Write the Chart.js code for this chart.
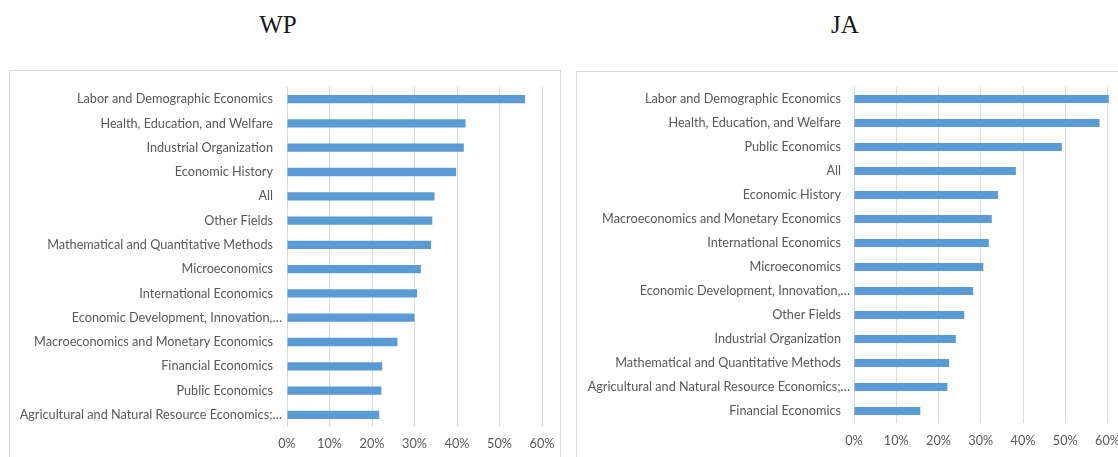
<!DOCTYPE html>
<html>
<head>
<meta charset="utf-8">
<script src="https://cdn.jsdelivr.net/npm/chart.js@4/dist/chart.umd.min.js"></script>
<style>
  html, body { margin: 0; padding: 0; background: #ffffff; }
  body { width: 1118px; height: 457px; position: relative; overflow: hidden; }
  .title { position: absolute; font-family: "Liberation Serif", "DejaVu Serif", serif; font-size: 25px; color: #1a1a1a; transform: translateX(-50%); line-height: 1; }
  .box { position: absolute; border: 1px solid #d9d9d9; background: #fff; }
  .box canvas { position: absolute; left: 0; top: 0; }
</style>
</head>
<body>
<div class="title" style="left:278px; top:12px;">WP</div>
<div class="title" style="left:845px; top:12px;">JA</div>
<div class="box" style="left:9px; top:70px; width:550px; height:400px;">
  <div style="position:absolute; left:0; top:0; width:550px; height:386px;"><canvas id="wp"></canvas></div>
</div>
<div class="box" style="left:576px; top:71px; width:600px; height:400px;">
  <div style="position:absolute; left:0; top:0; width:580px; height:385px;"><canvas id="ja"></canvas></div>
</div>
<script>
const wpCategories = [
  "Labor and Demographic Economics",
  "Health, Education, and Welfare",
  "Industrial Organization",
  "Economic History",
  "All",
  "Other Fields",
  "Mathematical and Quantitative Methods",
  "Microeconomics",
  "International Economics",
  "Economic Development, Innovation,…",
  "Macroeconomics and Monetary Economics",
  "Financial Economics",
  "Public Economics",
  "Agricultural and Natural Resource Economics;…"
];
const wpValues = [0.560, 0.420, 0.416, 0.398, 0.347, 0.342, 0.339, 0.315, 0.306, 0.300, 0.260, 0.224, 0.222, 0.217];

const jaCategories = [
  "Labor and Demographic Economics",
  "Health, Education, and Welfare",
  "Public Economics",
  "All",
  "Economic History",
  "Macroeconomics and Monetary Economics",
  "International Economics",
  "Microeconomics",
  "Economic Development, Innovation,…",
  "Other Fields",
  "Industrial Organization",
  "Mathematical and Quantitative Methods",
  "Agricultural and Natural Resource Economics;…",
  "Financial Economics"
];
const jaValues = [0.603, 0.581, 0.492, 0.383, 0.341, 0.326, 0.319, 0.306, 0.282, 0.261, 0.241, 0.225, 0.221, 0.157];

const xTickValues = [0, 0.1, 0.2, 0.3, 0.4, 0.5, 0.6];

const labelFont = { family: "Lato, 'Liberation Sans', Arial, sans-serif", size: 12.7 };
const textColor = '#595959';

// Truncated (ellipsis) labels sit a little closer to the axis, as in the original
const ellipsisShift = {
  id: 'ellipsisShift',
  beforeDraw(chart, args, opts) {
    try {
      const scale = chart.scales.y;
      const items = scale.getLabelItems();
      items.forEach(it => {
        const txt = Array.isArray(it.label) ? it.label.join('') : String(it.label);
        if (!txt.endsWith('…')) it.options.translation[0] -= opts.shift;
      });
    } catch (e) {}
  }
};

function makeChart(id, cats, vals, cfg) {
  return new Chart(document.getElementById(id), {
    type: 'bar',
    data: {
      labels: cats,
      datasets: [{
        data: vals,
        backgroundColor: '#5B9BD5',
        borderWidth: 0,
        barPercentage: 0.34,
        categoryPercentage: 1.0,
        clip: false
      }]
    },
    plugins: [ellipsisShift],
    options: {
      indexAxis: 'y',
      responsive: true,
      maintainAspectRatio: false,
      animation: false,
      layout: { padding: { left: 0, right: cfg.padRight, top: cfg.padTop, bottom: 0 } },
      plugins: { legend: { display: false }, tooltip: { enabled: false }, ellipsisShift: { shift: cfg.shift } },
      scales: {
        x: {
          min: 0, max: 0.6,
          afterBuildTicks: (axis) => { axis.ticks = xTickValues.map(v => ({ value: v })); },
          afterFit: (axis) => { axis.height = cfg.xHeight; axis.paddingLeft = 0; axis.paddingRight = 0; },
          grid: { color: '#d9d9d9', lineWidth: 1, drawTicks: false },
          border: { display: false },
          ticks: {
            color: textColor, font: labelFont, padding: cfg.xPad,
            callback: (v) => Math.round(v * 100) + '%'
          }
        },
        y: {
          afterFit: (axis) => { axis.width = cfg.yWidth; axis.paddingTop = 0; axis.paddingBottom = 0; },
          grid: { display: false, drawTicks: false },
          border: { display: false },
          ticks: { color: textColor, font: labelFont, padding: cfg.yPad, autoSkip: false }
        }
      }
    }
  });
}

makeChart('wp', wpCategories, wpValues, { padRight: 18, padTop: 16, xHeight: 30, xPad: 9, yWidth: 277, yPad: 5, shift: 9 });
makeChart('ja', jaCategories, jaValues, { padRight: 49.5, padTop: 15, xHeight: 34, xPad: 10, yWidth: 277, yPad: 4, shift: 9 });
</script>
</body>
</html>
